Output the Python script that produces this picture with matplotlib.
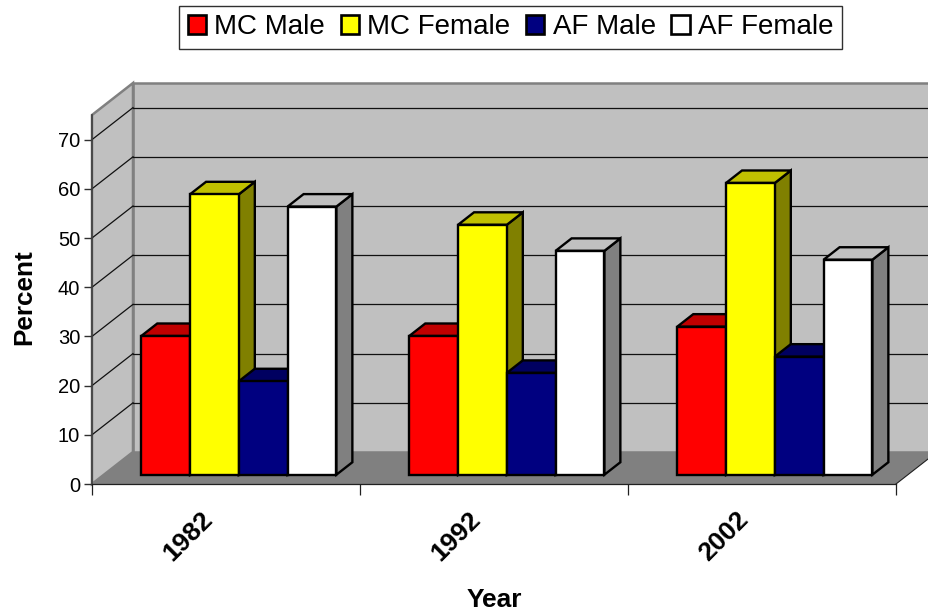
#!/usr/bin/env python3
"""Fake-3D clustered columns, percent by year and group."""
import matplotlib
matplotlib.use("Agg")
import matplotlib.pyplot as plt
from matplotlib.patches import Patch, Polygon

plt.rcParams["font.family"] = ["Liberation Sans", "DejaVu Sans"]

years = ["1982", "1992", "2002"]
series_names = ["MC Male", "MC Female", "AF Male", "AF Female"]
mc_male = [28.2, 28.2, 30.1]
mc_female = [57.0, 50.8, 59.3]
af_male = [19.0, 20.7, 24.0]
af_female = [54.5, 45.5, 43.7]
y_ticks = [0, 10, 20, 30, 40, 50, 60, 70]

front_colors = ["#FF0000", "#FFFF00", "#000080", "#FFFFFF"]
top_colors = ["#C00000", "#C0C000", "#000060", "#C0C0C0"]
side_colors = ["#800000", "#808000", "#000040", "#808080"]

W, H = 929, 614
fig = plt.figure(figsize=(W / 100, H / 100), dpi=100)
# axes span the front plane of the box, in pixels of the picture
ax = fig.add_axes([92 / W, 1 - 484 / H, (W - 92) / W, (484 - 115) / H])
ax.set_xlim(0, (W - 92) / 268)
ax.set_ylim(0, 75)
ax.patch.set_visible(False)

# depth of the whole box and of the bars, in data units
DX = 41 / 268
DY = 32 / 4.92
BAR_D0 = 0.29
BAR_D = 0.39
BAR_W = 0.182
GROUP_LEFT = 0.1395

# walls and floor
ax.add_patch(Polygon([(DX, DY), (3 + DX, DY), (3 + DX, 75 + DY), (DX, 75 + DY)],
                     fc="#C0C0C0", ec="#808080", lw=1.8, clip_on=False, zorder=1))
ax.add_patch(Polygon([(0, 0), (DX, DY), (DX, 75 + DY), (0, 75)],
                     fc="#C0C0C0", ec="#808080", lw=1.8, clip_on=False, zorder=1))
ax.add_patch(Polygon([(0, 0), (3, 0), (3 + DX, DY), (DX, DY)],
                     fc="#808080", ec="none", clip_on=False, zorder=1.5))
ax.plot([3, 3 + DX], [0, DY], color="#202020", lw=0.8, clip_on=False, zorder=1.6)

for t in y_ticks[1:]:
    ax.plot([0, DX], [t, t + DY], color="#101010", lw=0.9, clip_on=False, zorder=2)
    ax.plot([DX, 3 + DX], [t + DY, t + DY], color="#101010", lw=0.9, clip_on=False, zorder=2)

# columns, left to right so each front face covers the side before it
z = 3
for g in range(len(years)):
    values = [mc_male[g], mc_female[g], af_male[g], af_female[g]]
    for i, v in enumerate(values):
        x0 = g + GROUP_LEFT + DX * BAR_D0 + BAR_W * i
        base = DY * BAR_D0
        dx = DX * BAR_D
        dy = DY * BAR_D
        style = dict(ec="black", lw=1.7, joinstyle="miter", clip_on=False)
        ax.add_patch(Polygon([(x0 + BAR_W, base), (x0 + BAR_W + dx, base + dy),
                              (x0 + BAR_W + dx, base + v + dy), (x0 + BAR_W, base + v)],
                             fc=side_colors[i], zorder=z, **style))
        ax.add_patch(Polygon([(x0, base + v), (x0 + BAR_W, base + v),
                              (x0 + BAR_W + dx, base + v + dy), (x0 + dx, base + v + dy)],
                             fc=top_colors[i], zorder=z, **style))
        ax.bar(x0, v, BAR_W, bottom=base, align="edge", color=front_colors[i],
               edgecolor="black", linewidth=1.7, clip_on=False, zorder=z + 0.5)
        z += 1

for s in ["top", "right"]:
    ax.spines[s].set_visible(False)
ax.spines["left"].set_color("#404040")
ax.spines["left"].set_linewidth(1.2)
ax.spines["left"].set_zorder(2)
ax.spines["bottom"].set_bounds(0, 3)
ax.spines["bottom"].set_color("#202020")
ax.spines["bottom"].set_linewidth(0.9)
ax.spines["bottom"].set_zorder(2)

ax.set_yticks(y_ticks)
ax.tick_params(axis="y", length=6, width=1, color="#303030", labelsize=14.5, pad=2.5)
ax.set_xticks([0, 1, 2, 3])
ax.set_xticklabels([])
ax.tick_params(axis="x", length=8, width=0.9, color="#202020")

for g, year in enumerate(years):
    ax.annotate(year, xy=(g + 0.5, 0), xytext=(-38, -52), textcoords="offset pixels",
                ha="center", va="center", rotation=45, fontsize=19, fontweight="bold")

fig.text(24 / W, 1 - 297 / H, "Percent", rotation=90, ha="center", va="center",
         fontsize=18.8, fontweight="bold")
fig.text(494 / W, 1 - 600 / H, "Year", ha="center", va="center",
         fontsize=19, fontweight="bold")

handles = [Patch(fc=c, ec="black", lw=1.9) for c in front_colors]
leg = fig.legend(handles, series_names, ncol=4, loc="center",
                 bbox_to_anchor=(510.5 / W, 1 - 27.5 / H), fontsize=20,
                 fancybox=False, framealpha=1, edgecolor="#303030",
                 handlelength=0.66, handleheight=0.66, handletextpad=0.3,
                 columnspacing=0.56, borderpad=0.32, borderaxespad=0)
leg.get_frame().set_linewidth(1.0)

fig.savefig("out.png", dpi=100)
